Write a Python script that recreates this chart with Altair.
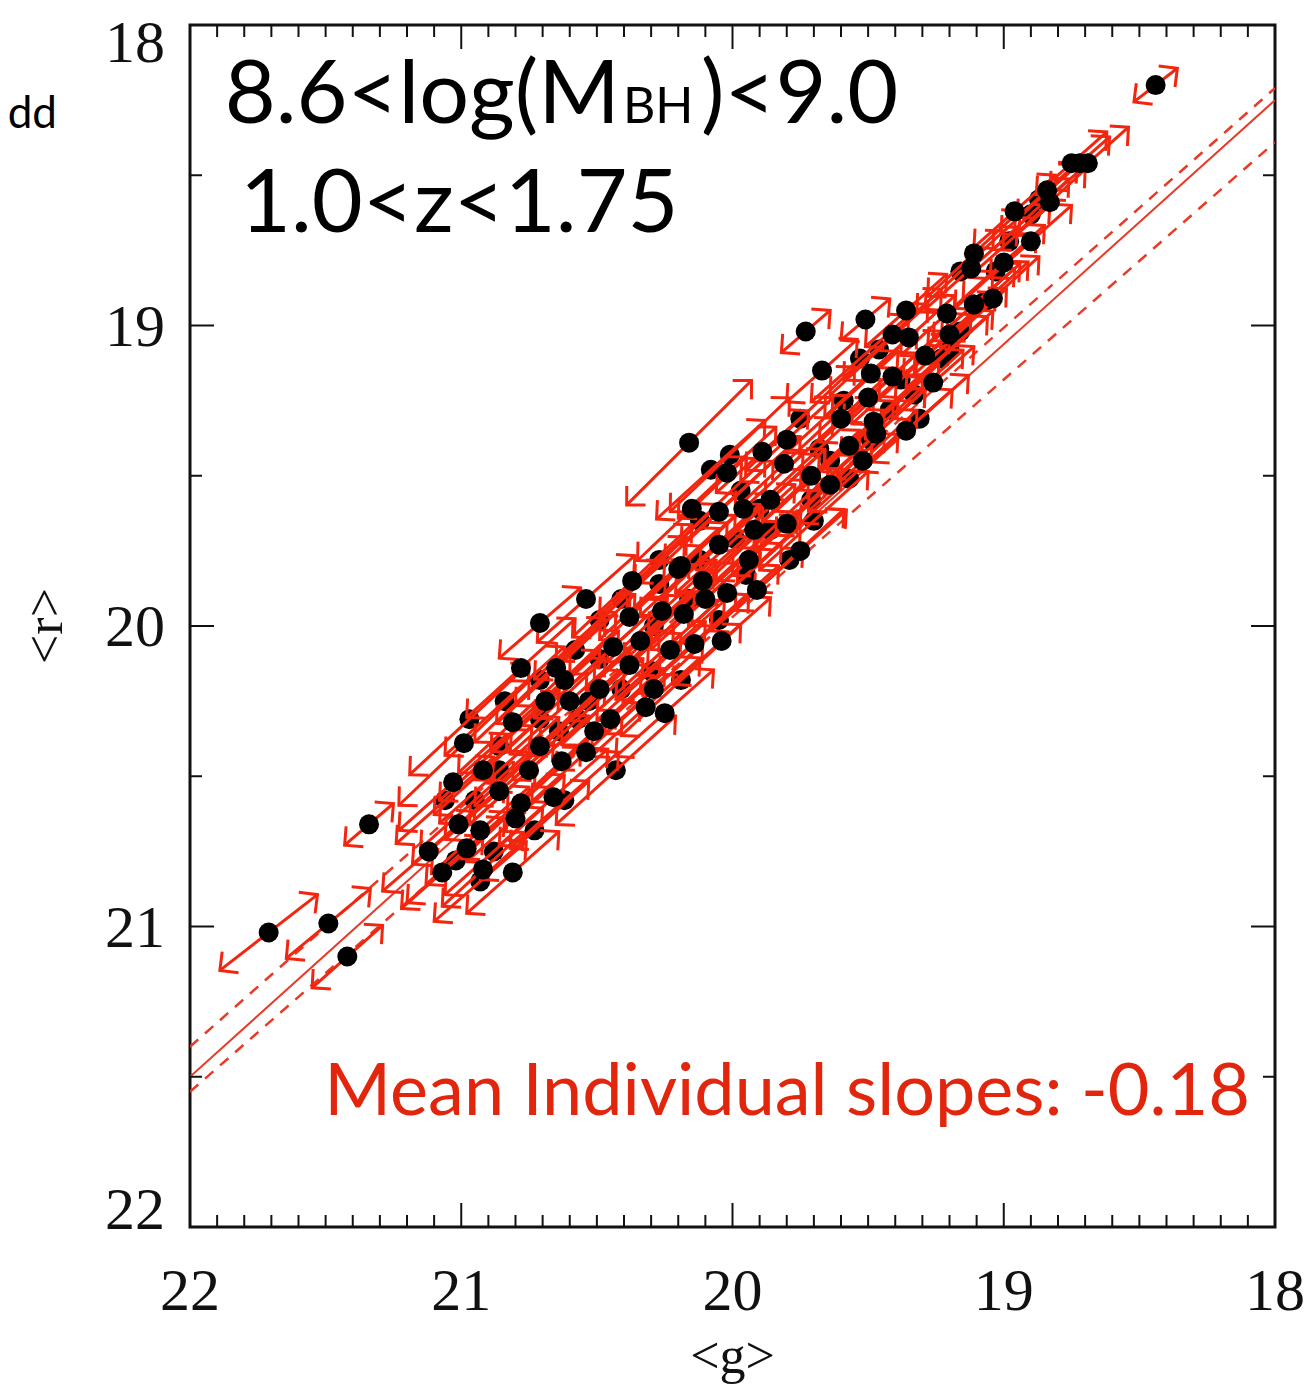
import math
import altair as alt
import pandas as pd

# ---------------- data ----------------
# quasars whose dots lie on top of the arrows: mean magnitudes (<g>, <r>)
g = [21.71, 21.49, 21.42, 21.34, 20.99, 21.03, 20.92, 21.01, 20.98, 21.07,
     20.92, 20.81, 20.80, 20.78, 20.81, 20.37, 20.54, 20.71, 20.78, 20.65,
     20.62, 20.38, 20.44, 20.38, 20.26, 20.20, 20.60, 20.32, 20.25, 20.54,
     20.51, 20.66, 20.71, 20.16, 20.02, 19.89, 19.81, 19.80, 19.64, 20.15,
     19.96, 19.92, 19.80, 19.75, 20.05, 20.19, 20.11, 19.91, 20.18, 20.02,
     20.14, 20.04, 19.73, 19.51, 19.36, 19.21, 19.11, 19.41, 19.35, 19.67,
     19.41, 19.26, 19.60, 19.50, 19.48, 19.47, 19.36, 19.52, 18.72, 18.83,
     18.84, 18.96, 19.11, 19.00, 19.12, 19.04, 19.11, 19.49, 18.44, 18.75,
     18.69, 20.49, 20.34, 20.10, 19.94, 20.45, 20.75, 20.86, 20.63, 20.29,
     19.71, 19.57, 19.29, 19.20, 18.90, 19.86, 20.23, 20.93, 21.12, 20.69, 20.05]
r = [21.02, 20.99, 21.10, 20.66, 20.39, 20.52, 20.48, 20.66, 20.74, 20.82,
     20.81, 20.82, 20.64, 20.59, 20.32, 19.85, 19.91, 19.99, 20.14, 20.14,
     20.18, 19.97, 20.07, 20.13, 19.95, 19.81, 20.25, 20.27, 20.29, 20.42,
     20.35, 20.57, 20.40, 19.39, 19.49, 19.42, 19.46, 19.38, 19.53, 19.61,
     19.61, 19.68, 19.66, 19.75, 19.62, 19.80, 19.85, 19.88, 19.96, 19.89,
     20.06, 20.05, 19.02, 18.98, 18.95, 18.96, 18.93, 19.03, 19.04, 19.15,
     19.17, 19.19, 19.31, 19.24, 19.32, 19.36, 19.35, 19.45, 18.46, 18.59,
     18.55, 18.62, 18.76, 18.79, 18.81, 18.91, 18.93, 19.16, 18.20, 18.46,
     18.46, 20.21, 20.05, 19.91, 19.78, 20.31, 20.48, 20.55, 20.45, 20.21,
     19.50, 19.40, 19.10, 19.03, 18.72, 19.58, 20.08, 20.68, 20.75, 20.25, 19.73]
# half extent of each variability arrow in <g> (mag)
dg = [0.18, 0.155, 0.13, 0.09, 0.24, 0.20, 0.18, 0.17, 0.15, 0.15,
      0.15, 0.17, 0.18, 0.22, 0.20, 0.22, 0.18, 0.15, 0.20, 0.22,
      0.20, 0.22, 0.20, 0.22, 0.20, 0.18, 0.22, 0.20, 0.18, 0.20,
      0.22, 0.20, 0.24, 0.23, 0.18, 0.17, 0.18, 0.17, 0.20, 0.20,
      0.22, 0.20, 0.20, 0.17, 0.20, 0.20, 0.20, 0.17, 0.20, 0.20,
      0.20, 0.18, 0.09, 0.09, 0.15, 0.17, 0.15, 0.18, 0.17, 0.13,
      0.18, 0.15, 0.20, 0.18, 0.18, 0.18, 0.17, 0.20, 0.11, 0.13,
      0.11, 0.15, 0.17, 0.15, 0.17, 0.17, 0.17, 0.17, 0.08, 0.13,
      0.15, 0.22, 0.20, 0.20, 0.18, 0.20, 0.22, 0.20, 0.20, 0.18,
      0.18, 0.18, 0.17, 0.17, 0.15, 0.20, 0.20, 0.18, 0.17, 0.20, 0.20]
# individual slope d<r>/d<g> of each arrow
slope = [0.70, 0.75, 0.80, 0.77, 0.86, 0.80, 0.82, 0.78, 0.80, 0.80,
         0.82, 0.80, 0.80, 0.84, 0.84, 0.85, 0.80, 0.78, 0.82, 0.84,
         0.82, 0.86, 0.82, 0.84, 0.84, 0.85, 0.80, 0.82, 0.80, 0.82,
         0.84, 0.80, 0.82, 0.90, 0.84, 0.80, 0.84, 0.82, 0.84, 0.86,
         0.84, 0.82, 0.86, 0.80, 0.84, 0.84, 0.82, 0.80, 0.84, 0.82,
         0.82, 0.80, 0.78, 0.76, 0.80, 0.82, 0.80, 0.84, 0.82, 0.80,
         0.84, 0.80, 0.84, 0.82, 0.86, 0.82, 0.80, 0.84, 0.80, 0.84,
         0.82, 0.80, 0.84, 0.82, 0.80, 0.82, 0.80, 0.84, 0.70, 0.80,
         0.80, 0.84, 0.82, 0.84, 0.82, 0.84, 0.82, 0.80, 0.84, 0.82,
         0.84, 0.82, 0.80, 0.82, 0.80, 0.84, 0.82, 0.80, 0.78, 0.84, 0.84]

# quasars in the crowded band whose dots sit under the other arrows
g_hidden = [20.86, 20.95, 20.71, 20.88, 21.02, 20.73, 20.57, 20.49, 20.29, 20.41,
            20.12, 19.99, 19.86, 19.97, 19.71, 19.68, 19.59, 19.42, 19.53, 19.33,
            20.19, 20.43, 20.62, 20.27, 20.08, 19.20, 19.03, 18.90,
            21.06, 20.97, 20.84, 20.64, 20.53, 20.71, 20.41, 20.49, 20.27, 20.16,
            20.05, 19.95, 20.12, 19.90, 19.79, 19.70, 19.64, 19.75, 19.57, 19.49,
            19.38, 19.31, 19.46, 19.23, 19.16, 19.07, 18.98, 19.16, 20.93, 20.58,
            20.30, 20.86, 20.01, 18.87]
r_hidden = [20.40, 20.58, 20.31, 20.75, 20.78, 20.68, 20.31, 20.11, 20.00, 19.91,
            19.78, 19.71, 19.68, 19.55, 19.58, 19.41, 19.25, 19.28, 19.11, 19.23,
            20.18, 20.48, 20.58, 19.86, 19.48, 19.08, 18.82, 18.63,
            20.58, 20.31, 20.25, 20.35, 20.25, 20.18, 20.21, 19.98, 19.78, 19.91,
            19.98, 19.83, 19.65, 19.61, 19.78, 19.65, 19.45, 19.31, 19.51, 19.38,
            19.18, 19.31, 19.08, 19.11, 19.02, 18.92, 18.72, 18.82, 20.85, 20.08,
            20.15, 20.48, 19.43, 18.58]
dg_hidden = [0.22, 0.20, 0.24, 0.18, 0.18, 0.20, 0.24, 0.24, 0.22, 0.24,
             0.22, 0.22, 0.20, 0.22, 0.20, 0.20, 0.20, 0.18, 0.18, 0.18,
             0.22, 0.22, 0.20, 0.22, 0.20, 0.16, 0.15, 0.14,
             0.18, 0.22, 0.22, 0.24, 0.22, 0.24, 0.22, 0.24, 0.22, 0.24,
             0.22, 0.20, 0.24, 0.22, 0.20, 0.20, 0.20, 0.20, 0.18, 0.20,
             0.18, 0.18, 0.18, 0.17, 0.17, 0.16, 0.15, 0.16, 0.17, 0.22,
             0.20, 0.22, 0.22, 0.14]
slope_hidden = [0.82, 0.80, 0.84, 0.80, 0.78, 0.82, 0.84, 0.82, 0.84, 0.86,
                0.84, 0.82, 0.84, 0.82, 0.82, 0.84, 0.82, 0.84, 0.80, 0.82,
                0.84, 0.82, 0.80, 0.84, 0.82, 0.80, 0.82, 0.84,
                0.80, 0.84, 0.82, 0.84, 0.82, 0.86, 0.84, 0.82, 0.84, 0.86,
                0.82, 0.84, 0.86, 0.82, 0.84, 0.82, 0.84, 0.86, 0.82, 0.84,
                0.82, 0.80, 0.84, 0.82, 0.84, 0.82, 0.80, 0.84, 0.78, 0.84,
                0.82, 0.80, 0.86, 0.82]
assert len(g) == len(r) == len(dg) == len(slope)
assert len(g_hidden) == len(r_hidden) == len(dg_hidden) == len(slope_hidden)

# fitted relation (solid) and its bounds (dashed), evaluated at both ends of <g>
fit_g = [22.0, 18.0]
fit_r = [21.50, 18.25]
fit_r_upper = [21.40, 18.21]
fit_r_lower = [21.55, 18.39]

# axis ticks and labels
major_ticks = [18, 19, 20, 21, 22]
g_minor_ticks = [round(18 + i / 10, 1) for i in range(41) if i % 10]
r_minor_ticks = [18.5, 19.5, 20.5, 21.5]
x_title = "<g>"
y_title = "<r>"

title_line1 = "8.6<log(M"
title_sub = "BH"
title_line1b = ")<9.0"
title_line2 = "1.0<z<1.75"
slope_text = "Mean Individual slopes: -0.18"
cut_text = "dd"

# ---------------- styles ----------------
W, H = 1085, 1202
DOM = [18, 22]
RED = "#f4250e"
FIT_RED = "#e83a26"
TEXT_RED = "#e2260d"
INK = "#111111"
SERIF = "Liberation Serif"
CHEVRON = "M -0.7 -0.7 L 0 0 L -0.7 0.7"

kx = W / (DOM[1] - DOM[0])
ky = H / (DOM[1] - DOM[0])

rows, heads = [], []
for grp, (gs, rs, ds, ss) in {"front": (g, r, dg, slope),
                              "back": (g_hidden, r_hidden, dg_hidden, slope_hidden)}.items():
    for gi, ri, di, si in zip(gs, rs, ds, ss):
        rows.append(dict(g=gi, r=ri, g_lo=gi + di, r_lo=ri + di * si,
                         g_hi=gi - di, r_hi=ri - di * si, grp=grp))
        up = math.degrees(math.atan2(-si * ky, kx)) % 360
        heads.append(dict(g=gi - di, r=ri - di * si, ang=up))
        heads.append(dict(g=gi + di, r=ri + di * si, ang=(up + 180) % 360))
pts = pd.DataFrame(rows)
heads = pd.DataFrame(heads)
fit = pd.DataFrame({"g0": [fit_g[0]] * 3, "g1": [fit_g[1]] * 3,
                    "r0": [fit_r[0], fit_r_upper[0], fit_r_lower[0]],
                    "r1": [fit_r[1], fit_r_upper[1], fit_r_lower[1]],
                    "kind": ["fit", "upper", "lower"]})

xs = alt.Scale(domain=DOM, reverse=True, nice=False, zero=False)
ys = alt.Scale(domain=DOM, reverse=True, nice=False, zero=False)


def X(f):
    return alt.X(f, scale=xs, axis=None)


def Y(f):
    return alt.Y(f, scale=ys, axis=None)


fit_solid = alt.Chart(fit[fit.kind == "fit"]).mark_rule(color=FIT_RED, strokeWidth=2, clip=True).encode(
    x=X("g0:Q"), y=Y("r0:Q"), x2="g1:Q", y2="r1:Q")
fit_dash = alt.Chart(fit[fit.kind != "fit"]).mark_rule(
    color=FIT_RED, strokeWidth=2.5, strokeDash=[11, 9], clip=True).encode(
    x=X("g0:Q"), y=Y("r0:Q"), x2="g1:Q", y2="r1:Q", detail="kind:N")

dots_back = alt.Chart(pts[pts.grp == "back"]).mark_circle(size=400, color="black", opacity=1).encode(
    x=X("g:Q"), y=Y("r:Q"))
shafts = alt.Chart(pts).mark_rule(color=RED, strokeWidth=3).encode(
    x=X("g_lo:Q"), y=Y("r_lo:Q"), x2="g_hi:Q", y2="r_hi:Q")
arrowheads = alt.Chart(heads).mark_point(shape=CHEVRON, filled=False, size=1450, strokeWidth=3,
                                         color=RED, opacity=1).encode(
    x=X("g:Q"), y=Y("r:Q"), angle=alt.Angle("ang:Q", scale=None))
dots_front = alt.Chart(pts[pts.grp == "front"]).mark_circle(size=400, color="black", opacity=1).encode(
    x=X("g:Q"), y=Y("r:Q"))


def ticks_x(vals, length):
    d = pd.DataFrame({"t": vals})
    bottom = alt.Chart(d).mark_rule(color=INK, strokeWidth=2).encode(
        x=X("t:Q"), y=alt.value(H), y2=alt.value(H - length))
    top = alt.Chart(d).mark_rule(color=INK, strokeWidth=2).encode(
        x=X("t:Q"), y=alt.value(0), y2=alt.value(length))
    return [bottom, top]


def ticks_y(vals, length):
    d = pd.DataFrame({"t": vals})
    left = alt.Chart(d).mark_rule(color=INK, strokeWidth=2).encode(
        y=Y("t:Q"), x=alt.value(0), x2=alt.value(length))
    right = alt.Chart(d).mark_rule(color=INK, strokeWidth=2).encode(
        y=Y("t:Q"), x=alt.value(W), x2=alt.value(W - length))
    return [left, right]


tick_df = pd.DataFrame({"t": major_ticks})
x_labels = alt.Chart(tick_df).mark_text(font=SERIF, fontSize=60, color=INK, align="center",
                                        baseline="alphabetic").encode(
    x=X("t:Q"), y=alt.value(H + 83), text=alt.Text("t:Q", format="d"))


def y_label_layer(vals, dy):
    return alt.Chart(pd.DataFrame({"t": vals})).mark_text(
        font=SERIF, fontSize=60, color=INK, align="right", baseline="alphabetic", dy=dy).encode(
        y=Y("t:Q"), x=alt.value(-25), text=alt.Text("t:Q", format="d"))


# first and last labels sit flush inside the frame, as in the reference
y_labels = [y_label_layer(major_ticks[1:-1], 20),
            y_label_layer(major_ticks[:1], 37),
            y_label_layer(major_ticks[-1:], 2)]


def label(text, x, y, size, color="black", align="left", font="Lato", angle=0):
    return alt.Chart(pd.DataFrame({"t": [text]})).mark_text(
        align=align, baseline="alphabetic", font=font, fontSize=size, color=color, angle=angle).encode(
        text="t:N", x=alt.value(x), y=alt.value(y))


texts = [
    label(x_title, W / 2, H + 146, 52, color=INK, align="center", font=SERIF),
    label(y_title, -128, H / 2, 52, color=INK, align="center", font=SERIF, angle=270),
    label(title_line1, 430, 98, 88, align="right"),
    label(title_sub, 433, 98, 50),
    label(title_line1b, 511, 98, 88),
    label(title_line2, 50, 207, 88),
    label(slope_text, 1060, 1090, 72, color=TEXT_RED, align="right"),
    label(cut_text, -133, 103, 44, align="right"),
]

layers = ([fit_solid, fit_dash, dots_back, shafts, arrowheads, dots_front]
          + ticks_x(major_ticks, 24) + ticks_x(g_minor_ticks, 12)
          + ticks_y(major_ticks, 24) + ticks_y(r_minor_ticks, 12)
          + [x_labels] + y_labels + texts)

chart = alt.layer(*layers).properties(
    width=W, height=H,
    autosize=alt.AutoSizeParams(type="none"),
    padding={"left": 182, "top": 17, "right": 30, "bottom": 163},
).configure_view(stroke=INK, strokeWidth=3)

chart.save("out.html", embed_options={"renderer": "svg", "actions": False})
